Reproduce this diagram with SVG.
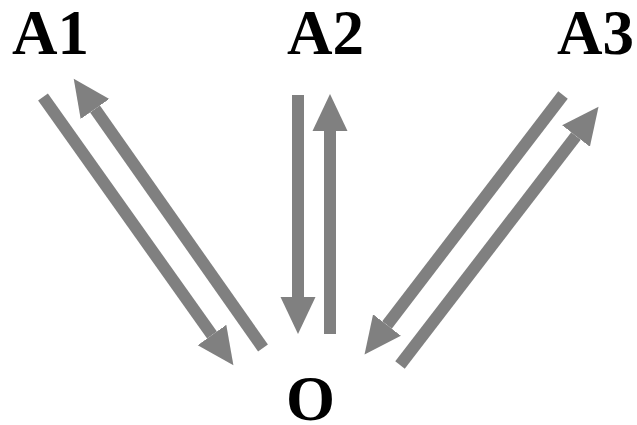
<svg xmlns="http://www.w3.org/2000/svg" width="637" height="425" viewBox="0 0 637 425">
<style>
text{font-family:'Liberation Serif','Times New Roman',serif;font-weight:700;font-size:63px;fill:#000}
.arr{stroke:#808080;stroke-width:12;fill:none;stroke-linecap:butt;marker-end:url(#ah)}
</style>
<defs>
<marker id="ah" markerUnits="userSpaceOnUse" markerWidth="40" markerHeight="40" viewBox="0 -20 40 40" refX="0" refY="0" orient="auto">
<path d="M0,-17.5 L37,0 L0,17.5 z" fill="#808080"/>
</marker>
</defs>
<rect width="637" height="425" fill="#fff"/>
<g id="connectors">
<line class="arr" x1="43" y1="97" x2="212" y2="335"/>
<line class="arr" x1="263" y1="348" x2="95" y2="109"/>
<line class="arr" x1="298" y1="95" x2="298" y2="297"/>
<line class="arr" x1="330" y1="334" x2="330" y2="131"/>
<line class="arr" x1="563" y1="95" x2="387" y2="325"/>
<line class="arr" x1="400" y1="365" x2="576" y2="136"/>
</g>
<g id="A1"><text x="12" y="54">A1</text></g>
<g id="A2"><text x="287" y="54">A2</text></g>
<g id="A3"><text x="557" y="54">A3</text></g>
<g id="O"><text x="286" y="420">O</text></g>
</svg>
